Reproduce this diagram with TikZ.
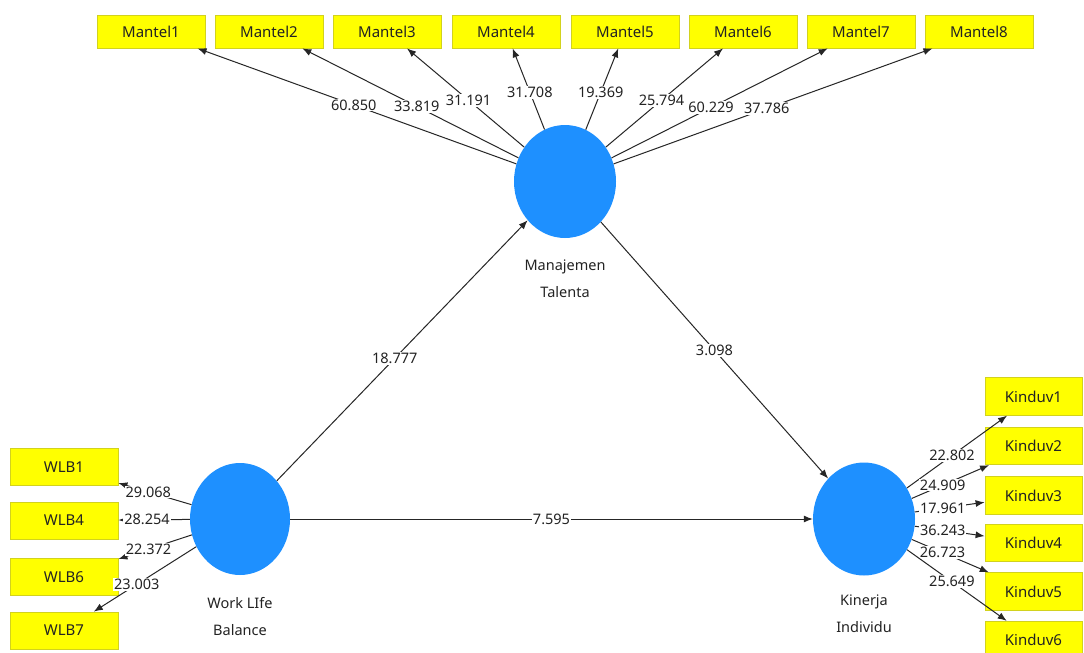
\documentclass[tikz,border=0pt]{standalone}
\usepackage{fontspec}
\setmainfont{Noto Sans}
\usetikzlibrary{shapes.geometric,arrows.meta}
\definecolor{lvblue}{RGB}{30,144,255}
\definecolor{indfill}{RGB}{255,255,0}
\definecolor{indborder}{RGB}{210,210,30}
\definecolor{txt}{RGB}{35,35,35}
\begin{document}
\begin{tikzpicture}[x=1pt,y=-1pt,
  lv/.style={ellipse, fill=lvblue, draw=none, minimum width=102pt, minimum height=113pt, inner sep=0pt},
  indbox/.style={rectangle, fill=indfill, draw=indborder, line width=0.8pt, minimum width=108pt, minimum height=33pt, inner sep=0pt, font=\fontsize{15}{17}\selectfont, text=txt},
  sidebox/.style={indbox, minimum height=37pt},
  kbox/.style={indbox, minimum width=97pt, minimum height=37.5pt},
  conn/.style={draw=black!85, line width=1pt, -{Latex[length=9pt,width=7pt]}},
  lbl/.style={fill=white, inner sep=1pt, font=\fontsize{14.5}{16}\selectfont, text=txt},
  capt/.style={align=center, font=\fontsize{14.5}{27}\selectfont, text=txt}
]
\useasboundingbox (0,0) rectangle (1084,653);
\fill[white] (0,0) rectangle (1084,653);

% latent variables
\node[lv] (mt) at (565,181.5) {};
\node[lv, minimum width=100pt, minimum height=112pt] (wlb) at (240,519) {};
\node[lv] (ki) at (864,519) {};
\node[capt] (mtcap) at (565,279) {Manajemen\\Talenta};
\node[capt] (wlbcap) at (240,617) {Work LIfe\\Balance};
\node[capt] (kicap) at (864,614) {Kinerja\\Individu};

% Mantel indicators
\node[indbox] (m1) at (151,31.5) {Mantel1};
\node[indbox] (m2) at (269,31.5) {Mantel2};
\node[indbox] (m3) at (387,31.5) {Mantel3};
\node[indbox] (m4) at (506,31.5) {Mantel4};
\node[indbox] (m5) at (625,31.5) {Mantel5};
\node[indbox] (m6) at (743,31.5) {Mantel6};
\node[indbox] (m7) at (861,31.5) {Mantel7};
\node[indbox] (m8) at (979,31.5) {Mantel8};

% WLB indicators
\node[sidebox] (w1) at (64,467) {WLB1};
\node[sidebox] (w4) at (64,520.5) {WLB4};
\node[sidebox] (w6) at (64,577) {WLB6};
\node[sidebox] (w7) at (64,630.5) {WLB7};

% Kinduv indicators
\node[kbox] (k1) at (1033.5,396.5) {Kinduv1};
\node[kbox] (k2) at (1033.5,446) {Kinduv2};
\node[kbox] (k3) at (1033.5,495.5) {Kinduv3};
\node[kbox] (k4) at (1033.5,543) {Kinduv4};
\node[kbox] (k5) at (1033.5,591.5) {Kinduv5};
\node[kbox] (k6) at (1033.5,640) {Kinduv6};

% structural paths
\draw[conn] (wlb) -- (mt) node[lbl, pos=0.47] (p1) {18.777};
\draw[conn] (mt) -- (ki) node[lbl, pos=0.5] (p2) {3.098};
\draw[conn] (wlb) -- (ki) node[lbl, pos=0.5] (p3) {7.595};

% outer loadings Manajemen Talenta
\draw[conn] (mt) -- (m1) node[lbl, pos=0.51] (l1) {60.850};
\draw[conn] (mt) -- (m2) node[lbl, pos=0.47] (l2) {33.819};
\draw[conn] (mt) -- (m3) node[lbl, pos=0.475] (l3) {31.191};
\draw[conn] (mt) -- (m4) node[lbl, pos=0.46] (l4) {31.708};
\draw[conn] (mt) -- (m5) node[lbl, pos=0.46] (l5) {19.369};
\draw[conn] (mt) -- (m6) node[lbl, pos=0.475] (l6) {25.794};
\draw[conn] (mt) -- (m7) node[lbl, pos=0.46] (l7) {60.229};
\draw[conn] (mt) -- (m8) node[lbl, pos=0.48] (l8) {37.786};

% outer loadings Work Life Balance
\draw[conn] (wlb) -- (w1) node[lbl, pos=0.59] (lw1) {29.068};
\draw[conn] (wlb) -- (w4) node[lbl, pos=0.6] (lw4) {28.254};
\draw[conn] (wlb) -- (w6) node[lbl, pos=0.59] (lw6) {22.372};
\draw[conn] (wlb) -- (w7) node[lbl, pos=0.58] (lw7) {23.003};

% outer loadings Kinerja Individu
\draw[conn] (ki) -- (k1) node[lbl, pos=0.45] (lk1) {22.802};
\draw[conn] (ki) -- (k2) node[lbl, pos=0.40] (lk2) {24.909};
\draw[conn] (ki) -- (k3) node[lbl, pos=0.40] (lk3) {17.961};
\draw[conn] (ki) -- (k4) node[lbl, pos=0.40] (lk4) {36.243};
\draw[conn] (ki) -- (k5) node[lbl, pos=0.40] (lk5) {26.723};
\draw[conn] (ki) -- (k6) node[lbl, pos=0.45] (lk6) {25.649};
\end{tikzpicture}
\end{document}
